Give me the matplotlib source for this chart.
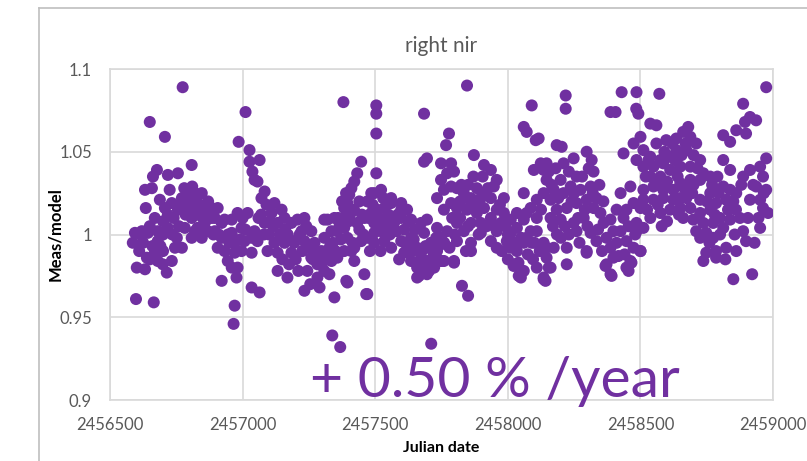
# scatter of meas/model ratio vs julian date, right nir channel

import matplotlib
matplotlib.use('Agg')
import matplotlib.pyplot as plt
from matplotlib.lines import Line2D
import numpy as np

# (julian date, meas/model), grouped by season
season_2013 = [
    (2456594, 1.001), (2456586, 0.995), (2456620, 1.002), (2456643, 1.001), (2456680, 1.002),
    (2456680, 0.996), (2456718, 1.004), (2456601, 0.980), (2456632, 0.979), (2456639, 0.986),
    (2456669, 0.989), (2456680, 0.984), (2456714, 0.977), (2456733, 0.984), (2456699, 0.982),
    (2456635, 1.016), (2456632, 1.027), (2456658, 1.028), (2456677, 1.039), (2456662, 1.035),
    (2456718, 1.036), (2456756, 1.037), (2456808, 1.042), (2456688, 1.021), (2456707, 1.016),
    (2456733, 1.019), (2456771, 1.022), (2456793, 1.024), (2456820, 1.025), (2456846, 1.025),
    (2456669, 1.010), (2456718, 1.012), (2456756, 1.015), (2456793, 1.016), (2456808, 1.010),
    (2456831, 1.012), (2456857, 1.015), (2456883, 1.016), (2456895, 1.010), (2456771, 0.992),
    (2456752, 0.998), (2456782, 1.004), (2456820, 1.002), (2456857, 1.004), (2456808, 0.998),
    (2456846, 0.998), (2456806, 1.015),
    (2456610, 0.990), (2456625, 0.995), (2456650, 0.985), (2456660, 0.993), (2456690, 0.993),
    (2456700, 0.990), (2456740, 1.010), (2456760, 1.005), (2456785, 1.012), (2456800, 1.020),
    (2456840, 1.018), (2456860, 1.008), (2456875, 1.012), (2456830, 1.004), (2456725, 1.027),
    (2456780, 1.028), (2456810, 1.029), (2456745, 0.992), (2456700, 1.008), (2456650, 1.005),
    (2456615, 1.000), (2456700, 1.000), (2456735, 1.000), (2456765, 1.018), (2456825, 1.020),
    (2456850, 1.010), (2456870, 1.020), (2456890, 1.000),
]
season_2014 = [
    (2456895, 1.002), (2456921, 0.998), (2456906, 0.992), (2456932, 0.990), (2456944, 0.984),
    (2456959, 0.980), (2456921, 0.972), (2456977, 0.974), (2456981, 0.980), (2456970, 0.989),
    (2456996, 0.990), (2456970, 0.995), (2457007, 0.996), (2457034, 0.998), (2456959, 1.001),
    (2456996, 1.004), (2456981, 1.013), (2457019, 1.013), (2456959, 1.009), (2456921, 1.007),
    (2456868, 1.002), (2456883, 1.010), (2456906, 1.016), (2456932, 1.009), (2457026, 1.051),
    (2457026, 1.044), (2457064, 1.045), (2457037, 1.038), (2457045, 1.033), (2457056, 1.032),
    (2457034, 0.989), (2457034, 0.968), (2457064, 0.965),
    (2457071, 1.022), (2457083, 1.026), (2457120, 1.019), (2457147, 1.015), (2457109, 1.013),
    (2457083, 1.007), (2457132, 1.007), (2457158, 1.010), (2457184, 1.007), (2457207, 1.009),
    (2457233, 1.010), (2457222, 1.002), (2457259, 1.002), (2457233, 0.996), (2457271, 0.995),
    (2457308, 0.998), (2457297, 0.990), (2457259, 0.986), (2457282, 0.982), (2457244, 0.978),
    (2457282, 0.974), (2457308, 0.978), (2457233, 0.966), (2457184, 0.989), (2457158, 0.995),
    (2457132, 0.989), (2457094, 0.990), (2457132, 0.978), (2457169, 0.974), (2457308, 1.009),
    (2457056, 0.996), (2457045, 1.002),
    (2457070, 1.012), (2457090, 1.018), (2457100, 1.000), (2457115, 1.005), (2457120, 0.995),
    (2457140, 1.000), (2457150, 0.985), (2457170, 1.000), (2457175, 0.982), (2457195, 0.995),
    (2457200, 0.985), (2457210, 0.978), (2457215, 1.000), (2457250, 0.992), (2457265, 0.985),
    (2457290, 0.988), (2457300, 0.983), (2457320, 0.985), (2457330, 0.993), (2457290, 0.968),
    (2457255, 0.970), (2456945, 1.000), (2456990, 0.997),
    (2456910, 1.000), (2456950, 0.995), (2457000, 1.010), (2457010, 1.003), (2457060, 1.010),
    (2457080, 1.000), (2457105, 1.008), (2457160, 1.003), (2457190, 0.996), (2457225, 0.990),
    (2457240, 1.005), (2457275, 0.990), (2457315, 0.990),
]
season_2015 = [
    (2457447, 1.044), (2457432, 1.037), (2457421, 1.032), (2457410, 1.028), (2457402, 1.024),
    (2457395, 1.019), (2457383, 1.016), (2457383, 1.010), (2457346, 1.010), (2457320, 1.009),
    (2457335, 1.002), (2457357, 1.002), (2457383, 1.004), (2457395, 0.998), (2457432, 1.007),
    (2457459, 1.010), (2457485, 1.013), (2457507, 1.015), (2457534, 1.016), (2457560, 1.019),
    (2457598, 1.019), (2457620, 1.015), (2457635, 1.009), (2457598, 1.010), (2457571, 1.007),
    (2457545, 1.004), (2457522, 1.002), (2457496, 1.001), (2457470, 0.998), (2457496, 0.995),
    (2457534, 0.996), (2457560, 0.992), (2457598, 0.996), (2457635, 0.998), (2457658, 0.992),
    (2457609, 0.989), (2457635, 0.984), (2457673, 0.989), (2457695, 0.984), (2457658, 0.980),
    (2457684, 0.978), (2457722, 0.980), (2457748, 0.984), (2457733, 0.990), (2457710, 0.995),
    (2457684, 1.001), (2457673, 1.007), (2457695, 1.009), (2457733, 1.004), (2457748, 0.998),
    (2457771, 1.002), (2457797, 0.984), (2457759, 0.984), (2457658, 0.974), (2457695, 0.976),
    (2457459, 0.976), (2457466, 0.964), (2457391, 0.972), (2457346, 0.962), (2457327, 0.976),
    (2457335, 0.984), (2457357, 0.986), (2457421, 0.984), (2457383, 0.990), (2457421, 0.992),
    (2457447, 0.996), (2457504, 1.037), (2457496, 1.025), (2457522, 1.027), (2457560, 1.022),
    (2457598, 1.015), (2457571, 1.010), (2457534, 1.009), (2457496, 1.007),
    (2457628, 0.989), (2457665, 0.984), (2457665, 0.975), (2457703, 0.978), (2457714, 0.982),
    (2457752, 0.984), (2457797, 0.983), (2457842, 0.990),
    (2457340, 0.995), (2457360, 1.010), (2457370, 0.997), (2457400, 1.008), (2457410, 0.990),
    (2457420, 1.015), (2457440, 1.020), (2457455, 1.000), (2457470, 1.020), (2457480, 0.990),
    (2457485, 1.025), (2457510, 1.005), (2457520, 0.990), (2457550, 1.012), (2457580, 1.002),
    (2457590, 0.985), (2457620, 0.993), (2457640, 0.990), (2457650, 1.003), (2457700, 0.992),
    (2457720, 0.988), (2457730, 0.998), (2457760, 0.995), (2457780, 0.992),
    (2457350, 0.990), (2457365, 1.005), (2457375, 1.020), (2457390, 1.025), (2457405, 1.012),
    (2457415, 0.995), (2457440, 1.003), (2457450, 1.012), (2457475, 1.010), (2457490, 1.018),
    (2457515, 1.010), (2457530, 1.022), (2457555, 1.000), (2457585, 1.012), (2457610, 1.003),
    (2457625, 1.008), (2457645, 0.997), (2457690, 0.993), (2457740, 0.993),
]
season_2016 = [
    (2457684, 1.044), (2457695, 1.046), (2457748, 1.043), (2457786, 1.043), (2457771, 1.037),
    (2457797, 1.038), (2457748, 1.033), (2457733, 1.022), (2457759, 1.027), (2457786, 1.029),
    (2457808, 1.028), (2457834, 1.025), (2457861, 1.022), (2457883, 1.028), (2457898, 1.022),
    (2457910, 1.016), (2457883, 1.013), (2457846, 1.015), (2457808, 1.016), (2457786, 1.019),
    (2457759, 1.015), (2457808, 1.007), (2457808, 0.996), (2457834, 1.002), (2457861, 1.007),
    (2457898, 1.007), (2457936, 1.010), (2457958, 1.015), (2457936, 1.022), (2457947, 1.029),
    (2457958, 1.033), (2457936, 1.039), (2457910, 1.042), (2457872, 1.048), (2457985, 1.022),
    (2457985, 1.013), (2457974, 1.007), (2457958, 1.002), (2457936, 0.996), (2457898, 1.001),
    (2457861, 0.995), (2457861, 0.990), (2457958, 0.992), (2457996, 0.996), (2457977, 0.990),
    (2458011, 1.001), (2458034, 1.004), (2458060, 1.009), (2458071, 1.013), (2458086, 1.016),
    (2458109, 1.021), (2458135, 1.025), (2458146, 1.033), (2458135, 1.039), (2458124, 1.043),
    (2458098, 1.039), (2458060, 1.025), (2458034, 1.013), (2458011, 1.009), (2458060, 0.995),
    (2458034, 0.990), (2458022, 0.982), (2458060, 0.978), (2458049, 0.974), (2458109, 0.980),
    (2458135, 0.974), (2458146, 0.986), (2458135, 0.995), (2458109, 1.002), (2458086, 1.002),
    (2458109, 1.010), (2458060, 1.065), (2458105, 1.057), (2458022, 0.981), (2458041, 0.975),
    (2458135, 0.973),
    (2457820, 1.020), (2457850, 1.030), (2457870, 1.018), (2457890, 1.000), (2457920, 1.005),
    (2457925, 1.028), (2457970, 1.018), (2457990, 1.005), (2457850, 1.005), (2457820, 1.010),
    (2457870, 1.035), (2457905, 1.035), (2457800, 1.000),
    (2458000, 0.985), (2458010, 0.992), (2458040, 0.983), (2458050, 0.998), (2458075, 0.988),
    (2458090, 0.995), (2458095, 0.985), (2458120, 0.990), (2458125, 1.015),
    (2457790, 1.010), (2457825, 1.030), (2457845, 1.022), (2457880, 1.020), (2457915, 1.025),
    (2457950, 1.005), (2458000, 1.000), (2458025, 0.995), (2458070, 0.998), (2458100, 0.995),
]
season_2017 = [
    (2458297, 1.050), (2458316, 1.045), (2458323, 1.038), (2458259, 1.035), (2458248, 1.046),
    (2458210, 1.043), (2458146, 1.043), (2458154, 1.038), (2458199, 1.033), (2458173, 1.027),
    (2458161, 1.021), (2458210, 1.025), (2458237, 1.029), (2458274, 1.027), (2458312, 1.029),
    (2458334, 1.022), (2458297, 1.021), (2458259, 1.019), (2458222, 1.016), (2458184, 1.015),
    (2458161, 1.010), (2458199, 1.009), (2458248, 1.007), (2458286, 1.010), (2458323, 1.016),
    (2458349, 1.013), (2458361, 1.007), (2458387, 1.009), (2458398, 1.002), (2458372, 0.998),
    (2458334, 0.996), (2458312, 1.001), (2458259, 1.002), (2458297, 0.990), (2458387, 0.992),
    (2458398, 0.986), (2458372, 0.982), (2458387, 0.976), (2458447, 0.980), (2458462, 0.984),
    (2458447, 0.996), (2458425, 1.002), (2458436, 1.010), (2458425, 1.025), (2458462, 1.029),
    (2458447, 1.015), (2458474, 1.019), (2458500, 1.016), (2458485, 1.007), (2458474, 0.992),
    (2458500, 0.990), (2458146, 0.992), (2458173, 0.992), (2458222, 0.992), (2458222, 0.982),
    (2458154, 0.980), (2458142, 0.972), (2458184, 1.054), (2458203, 1.053), (2458161, 0.980),
    (2458297, 0.989), (2458368, 0.981), (2458391, 0.975), (2458417, 0.987), (2458455, 0.978),
    (2458466, 0.983), (2458500, 0.990),
    (2458170, 1.005), (2458185, 1.000), (2458190, 1.022), (2458230, 1.000), (2458240, 1.020),
    (2458265, 1.010), (2458270, 0.995), (2458280, 1.035), (2458300, 1.005), (2458340, 1.003),
    (2458355, 0.990), (2458345, 1.030), (2458360, 1.020), (2458230, 1.038), (2458200, 0.998),
    (2458410, 0.995), (2458410, 1.015), (2458440, 0.988), (2458455, 1.005), (2458480, 1.000),
    (2458165, 1.030), (2458180, 1.040), (2458215, 1.005), (2458250, 1.025), (2458290, 1.015),
    (2458320, 1.025), (2458305, 1.040),
]
season_2018 = [
    (2458436, 1.049), (2458474, 1.055), (2458500, 1.059), (2458511, 1.051), (2458485, 1.045),
    (2458537, 1.047), (2458560, 1.055), (2458597, 1.057), (2458635, 1.058), (2458661, 1.062),
    (2458680, 1.065), (2458688, 1.059), (2458710, 1.055), (2458673, 1.051), (2458635, 1.051),
    (2458612, 1.047), (2458586, 1.043), (2458549, 1.041), (2458511, 1.041), (2458537, 1.035),
    (2458575, 1.035), (2458612, 1.039), (2458650, 1.041), (2458688, 1.041), (2458725, 1.045),
    (2458737, 1.037), (2458763, 1.035), (2458725, 1.033), (2458688, 1.033), (2458650, 1.031),
    (2458624, 1.027), (2458586, 1.027), (2458549, 1.029), (2458511, 1.027), (2458511, 1.021),
    (2458549, 1.021), (2458586, 1.022), (2458624, 1.021), (2458650, 1.022), (2458673, 1.022),
    (2458650, 1.016), (2458612, 1.015), (2458575, 1.013), (2458537, 1.010), (2458511, 1.004),
    (2458485, 1.002), (2458661, 1.010), (2458688, 1.016), (2458537, 1.067), (2458560, 1.066),
    (2458525, 1.015), (2458530, 1.045), (2458560, 1.030), (2458565, 1.018), (2458590, 1.050),
    (2458600, 1.032), (2458600, 1.008), (2458630, 1.045), (2458640, 1.035), (2458645, 1.012),
    (2458665, 1.028), (2458670, 1.055), (2458700, 1.030), (2458700, 1.048), (2458710, 1.002),
    (2458520, 1.035), (2458575, 1.045), (2458620, 1.055), (2458655, 1.048), (2458695, 1.025),
    (2458715, 1.040), (2458580, 1.005),
]
season_2019 = [
    (2458725, 1.021), (2458763, 1.025), (2458785, 1.027), (2458812, 1.029), (2458838, 1.027),
    (2458861, 1.025), (2458823, 1.021), (2458785, 1.019), (2458763, 1.015), (2458725, 1.013),
    (2458699, 1.009), (2458737, 1.007), (2458774, 1.007), (2458812, 1.004), (2458838, 1.009),
    (2458800, 1.010), (2458812, 1.045), (2458838, 1.039), (2458887, 1.035), (2458913, 1.039),
    (2458951, 1.041), (2458974, 1.046), (2458962, 1.035), (2458974, 1.027), (2458936, 1.029),
    (2458913, 1.021), (2458951, 1.021), (2458962, 1.016), (2458981, 1.013), (2458951, 1.004),
    (2458887, 1.002), (2458898, 0.996), (2458861, 0.990), (2458823, 0.992), (2458785, 0.990),
    (2458748, 0.989), (2458737, 0.984), (2458785, 0.986), (2458725, 0.998), (2458748, 1.001),
    (2458774, 0.998), (2458887, 1.079), (2458913, 1.071), (2458936, 1.069), (2458894, 1.068),
    (2458861, 1.063), (2458812, 1.060), (2458838, 1.056), (2458898, 1.061),
    (2458750, 1.020), (2458770, 1.030), (2458795, 1.025), (2458800, 1.000), (2458830, 1.015),
    (2458850, 1.020), (2458855, 1.000), (2458875, 1.010), (2458880, 1.030), (2458760, 0.995),
    (2458820, 0.985), (2458925, 1.030), (2458945, 1.010), (2458930, 0.995),
    (2458780, 1.012), (2458790, 1.035), (2458860, 1.015), (2458905, 1.010), (2458965, 1.025),
]
outliers = [
    (2456774, 1.089), (2456650, 1.068), (2456707, 1.059), (2457011, 1.074), (2456985, 1.056),
    (2457380, 1.080), (2457504, 1.078), (2457504, 1.073), (2457504, 1.061), (2457684, 1.073),
    (2457846, 1.090), (2458090, 1.078), (2458218, 1.084), (2458218, 1.076), (2458429, 1.086),
    (2458485, 1.086), (2458571, 1.085), (2458974, 1.089), (2458387, 1.074), (2458406, 1.074),
    (2458492, 1.073), (2458484, 1.076), (2457778, 1.061), (2457767, 1.054), (2458071, 1.062),
    (2458116, 1.058), (2456598, 0.961), (2456665, 0.959), (2456970, 0.957), (2456966, 0.946),
    (2457338, 0.939), (2457368, 0.932), (2457711, 0.934), (2457827, 0.969), (2457850, 0.963),
    (2458850, 0.973), (2458921, 0.976), (2457395, 0.971), (2457470, 0.964),
]

trend_text = '+ 0.50 % /year'

purple = '#7030A0'
grey_text = '#595959'
grid_col = '#D9D9D9'

all_pts = np.array(season_2013 + season_2014 + season_2015 + season_2016
                   + season_2017 + season_2018 + season_2019 + outliers)
jd = all_pts[:, 0]
ratio = all_pts[:, 1]

plt.rcParams['font.family'] = ['Lato', 'DejaVu Sans']

fig = plt.figure(figsize=(8.07, 4.61), dpi=100)
ax = fig.add_axes([0.1363, 0.1323, 0.8217, 0.718])

ax.scatter(jd, ratio, s=75, color=purple, edgecolors='none', zorder=3)

ax.set_xlim(2456500, 2459000)
ax.set_ylim(0.9, 1.1)
ax.set_xticks(np.arange(2456500, 2459001, 500))
ax.set_yticks([0.9, 0.95, 1.0, 1.05, 1.1])
ax.set_yticklabels(['0.9', '0.95', '1', '1.05', '1.1'])
ax.ticklabel_format(axis='x', useOffset=False, style='plain')
ax.grid(True, color=grid_col, linewidth=1.2, zorder=0)
ax.set_axisbelow(True)
for sp in ax.spines.values():
    sp.set_color(grid_col)
    sp.set_linewidth(1.2)
ax.tick_params(length=0, labelsize=12, labelcolor=grey_text)
ax.tick_params(axis='y', pad=13)
ax.tick_params(axis='x', pad=12)

ax.set_title('right nir', fontsize=15, color=grey_text, pad=12)
ax.set_xlabel('Julian date', fontsize=11.5, fontweight='bold')
ax.set_ylabel('Meas/model', fontsize=12, fontweight='bold')
ax.xaxis.set_label_coords(0.5, -0.124)
ax.yaxis.set_label_coords(-0.071, 0.5)

ax.text(0.302, 0.01, trend_text, transform=ax.transAxes, fontsize=41,
        color=purple, va='baseline', ha='left', zorder=5)

# outer chart frame, cut off at the right and bottom
fig.add_artist(Line2D([39 / 807, 39 / 807], [0, 1 - 8 / 461], color='#BFBFBF', lw=1.2))
fig.add_artist(Line2D([39 / 807, 1], [1 - 8 / 461, 1 - 8 / 461], color='#BFBFBF', lw=1.2))

fig.savefig('out.png', dpi=100)
